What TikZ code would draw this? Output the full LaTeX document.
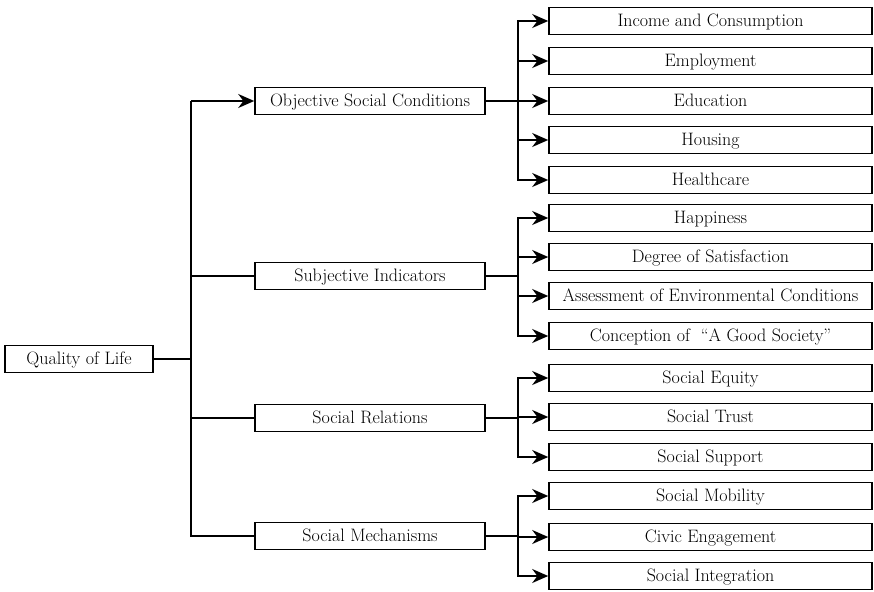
\documentclass[tikz,border=0pt]{standalone}
\usepackage{tikz}
\usetikzlibrary{arrows.meta,positioning,calc}

\begin{document}
\begin{tikzpicture}[
        x=1pt, y=-1pt,
        box/.style={draw, line width=1.6pt, inner sep=0pt, minimum height=27pt, text height=13.5pt, text depth=3pt, font=\fontsize{18}{20}\selectfont},
        leaf/.style={box, minimum width=323pt},
        mid/.style={box, minimum width=230pt},
        line/.style={line width=1.5pt},
        arrow/.style={line, -{Stealth[length=16pt, width=14pt]}}
    ]
        \useasboundingbox (0,0) rectangle (874,591);

        % Root
        \node[box, minimum width=148pt] (root) at (79,359) {Quality of Life};

        % Second level
        \node[mid] (obj) at (370,101) {Objective Social Conditions};
        \node[mid] (subj) at (370,276) {Subjective Indicators};
        \node[mid] (rel) at (370,418) {Social Relations};
        \node[mid] (mech) at (370,536) {Social Mechanisms};

        % Leaves
        \node[leaf] (inc) at (710.5,21) {Income and Consumption};
        \node[leaf] (emp) at (710.5,61) {Employment};
        \node[leaf] (edu) at (710.5,101) {Education};
        \node[leaf] (hou) at (710.5,140) {Housing};
        \node[leaf] (hea) at (710.5,180) {Healthcare};
        \node[leaf] (hap) at (710.5,218) {Happiness};
        \node[leaf] (sat) at (710.5,257) {Degree of Satisfaction};
        \node[leaf] (env) at (710.5,296) {Assessment of Environmental Conditions};
        \node[leaf] (soc) at (710.5,336) {Conception of \ ``A Good Society''};
        \node[leaf] (equ) at (710.5,378) {Social Equity};
        \node[leaf] (tru) at (710.5,417) {Social Trust};
        \node[leaf] (sup) at (710.5,457) {Social Support};
        \node[leaf] (mob) at (710.5,496) {Social Mobility};
        \node[leaf] (civ) at (710.5,537) {Civic Engagement};
        \node[leaf] (int) at (710.5,576) {Social Integration};

        % Trunk and branch columns
        \coordinate (trunk) at (191,0);
        \coordinate (branch) at (518,0);

        % Root to second level
        \draw[line] (root.east) -- (root.east -| trunk);
        \draw[line] (trunk |- obj) -- (trunk |- mech.west) -- (mech.west);
        \draw[arrow] (trunk |- obj) -- (obj.west);
        \foreach \j in {subj, rel} {
            \draw[line] (trunk |- \j.west) -- (\j.west);
        }

        % Second level to leaves
        \foreach \i/\j in {obj/inc, obj/emp, obj/edu, obj/hou, obj/hea,
                           subj/hap, subj/sat, subj/env, subj/soc,
                           rel/equ, rel/tru, rel/sup,
                           mech/mob, mech/civ, mech/int} {
            \draw[line] (\i.east) -- (\i.east -| branch);
            \draw[arrow] (\i.east -| branch) |- (\j.west);
        }

    \end{tikzpicture}
\end{document}
